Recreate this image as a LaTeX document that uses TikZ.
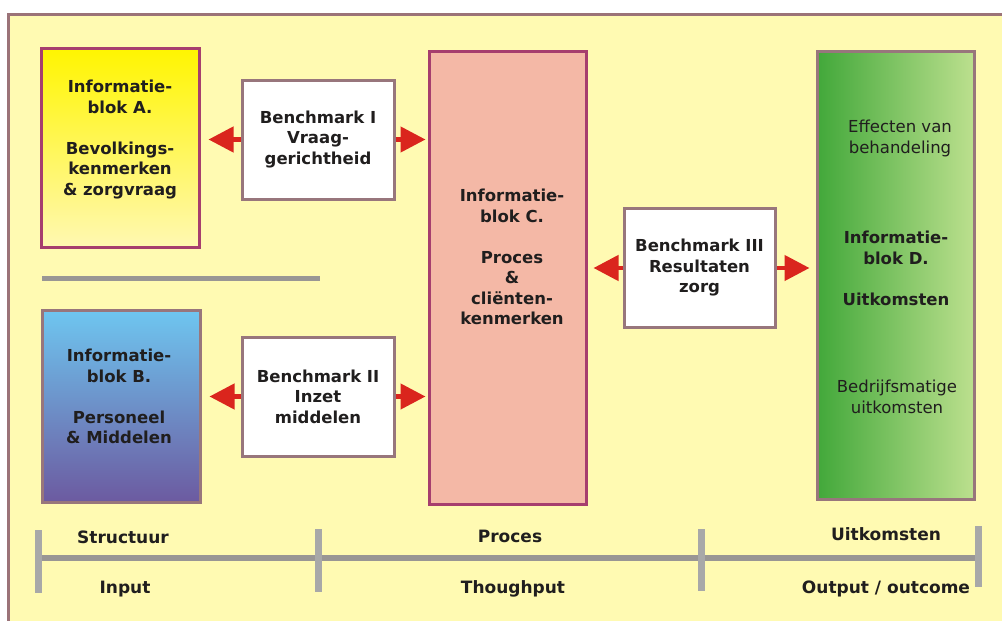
\documentclass[tikz,border=0pt]{standalone}
\usepackage{fontspec}
\setmainfont{DejaVu Sans}
\usetikzlibrary{arrows.meta}
\definecolor{bgyellow}{RGB}{255,250,178}
\definecolor{framecol}{RGB}{155,115,120}
\definecolor{magentab}{RGB}{166,62,110}
\definecolor{mauveb}{RGB}{152,118,124}
\definecolor{ayellowtop}{RGB}{255,245,0}
\definecolor{ayellowbot}{RGB}{255,248,178}
\definecolor{bbluetop}{RGB}{110,198,240}
\definecolor{bbluebot}{RGB}{108,90,160}
\definecolor{csalmon}{RGB}{244,184,166}
\definecolor{dgreenl}{RGB}{66,168,58}
\definecolor{dgreenr}{RGB}{188,224,142}
\definecolor{arrred}{RGB}{218,37,29}
\definecolor{axisgray}{RGB}{153,150,148}
\definecolor{tickgray}{RGB}{168,168,168}
\definecolor{txtcol}{RGB}{32,30,30}
\begin{document}
\begin{tikzpicture}[x=1pt,y=-1pt,
  every node/.style={text=txtcol},
  blk/.style={draw, line width=3pt, inner sep=0pt},
  bench/.style={blk, draw=mauveb, fill=white, align=center,
    font=\fontsize{16.5}{20.5}\selectfont\bfseries},
  btxt/.style={align=center, inner sep=0pt, font=\fontsize{16.5}{20.5}\selectfont\bfseries},
  rtxt/.style={align=center, inner sep=0pt, font=\fontsize{16.5}{20.5}\selectfont},
  axtxt/.style={inner sep=0pt, font=\fontsize{17}{20}\selectfont\bfseries},
  arr/.style={draw=arrred, line width=4.5pt, -{Triangle[length=25pt,width=25pt]}},
  tick/.style={draw=tickgray, line width=7pt}
]
\useasboundingbox (0,0) rectangle (1002,621);
\clip (0,0) rectangle (1002,621);
\fill[white] (0,0) rectangle (1002,621);
\draw[draw=framecol, line width=3pt, fill=bgyellow] (8,14.5) rectangle (1015,640);

% information blocks
\node[blk, draw=magentab, top color=ayellowtop, bottom color=ayellowbot,
  minimum width=158, minimum height=199] (A) at (120,147.5) {};
\node[blk, draw=mauveb, top color=bbluetop, bottom color=bbluebot,
  minimum width=158, minimum height=192] (B) at (121,406) {};
\node[blk, draw=magentab, fill=csalmon,
  minimum width=157, minimum height=453] (C) at (507.5,277.5) {};
\node[blk, draw=mauveb, left color=dgreenl, right color=dgreenr,
  minimum width=157, minimum height=448] (D) at (895.5,275) {};

% texts of the blocks
\node[btxt] (tA) at (120,139.5) {Informatie-\\blok A.\\[20.5pt]Bevolkings-\\kenmerken\\\& zorgvraag};
\node[btxt] (tB) at (119,396.5) {Informatie-\\blok B.\\[20.5pt]Personeel\\\& Middelen};
\node[btxt] (tC) at (512,257) {Informatie-\\blok C.\\[20.5pt]Proces\\\&\\cliënten-\\kenmerken};
\node[rtxt] (tD1) at (900,138.5) {Effecten van\\behandeling};
\node[btxt] (tD2) at (896,268.5) {Informatie-\\blok D.\\[20.5pt]Uitkomsten};
\node[rtxt] (tD3) at (897,397) {Bedrijfsmatige\\uitkomsten};

% benchmarks
\node[bench, minimum width=152, minimum height=119] (b1) at (318,139.5) {Benchmark I\\Vraag-\\gerichtheid};
\node[bench, minimum width=152, minimum height=119] (b2) at (318,396.5) {Benchmark II\\Inzet\\middelen};
\node[bench, minimum width=151, minimum height=119] (b3) at (699.5,268) {\\[-8pt]Benchmark III\\Resultaten\\zorg};

% arrows
\draw[arr, shorten >=8pt] (b1.west) -- (b1.west -| A.east);
\draw[arr, shorten >=2pt] (b1.east) -- (b1.east -| C.west);
\draw[arr, shorten >=8pt] (b2.west) -- (b2.west -| B.east);
\draw[arr, shorten >=2pt] (b2.east) -- (b2.east -| C.west);
\draw[arr, shorten >=6pt] (b3.west) -- (b3.west -| C.east);
\draw[arr, shorten >=6pt] (b3.east) -- (b3.east -| D.west);

% separator
\draw[draw=axisgray, line width=5pt] (42,278.5) -- (320,278.5);

% axis
\draw[draw=axisgray, line width=6pt] (42,558) -- (975,558);
\draw[tick] (38,530) -- (38,593);
\draw[tick] (318,529) -- (318,592);
\draw[tick] (701.5,529) -- (701.5,591);
\draw[tick] (978,526) -- (978,587);

\node[axtxt] (l1) at (123,537) {Structuur};
\node[axtxt] (l2) at (125,589) {Input};
\node[axtxt] (l3) at (510,536) {Proces};
\node[axtxt] (l4) at (513,589) {Thoughput};
\node[axtxt] (l5) at (886,534) {Uitkomsten};
\node[axtxt] (l6) at (886,589) {Output / outcome};
\end{tikzpicture}
\end{document}
